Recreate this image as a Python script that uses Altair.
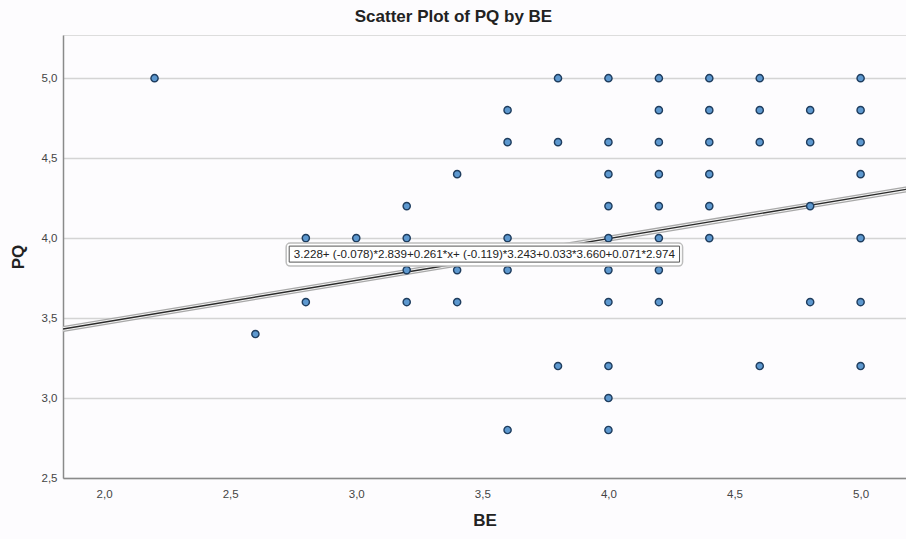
import altair as alt
import pandas as pd

# ---- data ----
be_values = [2.2,
             2.6,
             2.8, 2.8,
             3.0,
             3.2, 3.2, 3.2, 3.2,
             3.4, 3.4, 3.4,
             3.6, 3.6, 3.6, 3.6, 3.6,
             3.8, 3.8, 3.8,
             4.0, 4.0, 4.0, 4.0, 4.0, 4.0, 4.0, 4.0, 4.0, 4.0,
             4.2, 4.2, 4.2, 4.2, 4.2, 4.2, 4.2, 4.2,
             4.4, 4.4, 4.4, 4.4, 4.4, 4.4,
             4.6, 4.6, 4.6, 4.6,
             4.8, 4.8, 4.8, 4.8,
             5.0, 5.0, 5.0, 5.0, 5.0, 5.0, 5.0]
pq_values = [5.0,
             3.4,
             4.0, 3.6,
             4.0,
             4.2, 4.0, 3.8, 3.6,
             4.4, 3.8, 3.6,
             4.8, 4.6, 4.0, 3.8, 2.8,
             5.0, 4.6, 3.2,
             5.0, 4.6, 4.4, 4.2, 4.0, 3.8, 3.6, 3.2, 3.0, 2.8,
             5.0, 4.8, 4.6, 4.4, 4.2, 4.0, 3.8, 3.6,
             5.0, 4.8, 4.6, 4.4, 4.2, 4.0,
             5.0, 4.8, 4.6, 3.2,
             4.8, 4.6, 4.2, 3.6,
             5.0, 4.8, 4.6, 4.4, 4.0, 3.6, 3.2]

# fitted line as printed on the chart
const_terms = [3.228, -0.078 * 2.839, -0.119 * 3.243, 0.033 * 3.660, 0.071 * 2.974]
slope = 0.261
equation_label = "3.228+ (-0.078)*2.839+0.261*x+ (-0.119)*3.243+0.033*3.660+0.071*2.974"

x_ticks = [2.0, 2.5, 3.0, 3.5, 4.0, 4.5, 5.0]
y_ticks = [2.5, 3.0, 3.5, 4.0, 4.5, 5.0]
x_domain = [1.837, 5.18]
y_domain = [2.5, 5.27]

# ---- build tables ----
pts = pd.DataFrame({"BE": be_values, "PQ": pq_values})
intercept = sum(const_terms)
line_df = pd.DataFrame({"BE": x_domain, "PQ": [intercept + slope * v for v in x_domain]})
one = pd.DataFrame({"k": [0]})

FONT = "Liberation Sans"
comma = "replace(format(datum.value, '.1f'), '.', ',')"

xs = alt.Scale(domain=x_domain, nice=False, zero=False)
ys = alt.Scale(domain=y_domain, nice=False, zero=False)

x_enc = alt.X("BE:Q", scale=xs,
              axis=alt.Axis(title="BE", values=x_ticks, labelExpr=comma, grid=False,
                            ticks=False, domainColor="#8a8a8a", domainWidth=1.5,
                            labelFont=FONT, labelFontSize=11.5, labelColor="#444",
                            labelPadding=10, titleFont=FONT, titleFontSize=17,
                            titleFontWeight="bold", titleColor="#222", titlePadding=13))
y_enc = alt.Y("PQ:Q", scale=ys,
              axis=alt.Axis(title="PQ", values=y_ticks, labelExpr=comma, grid=True,
                            gridColor="#d4d4d4", gridWidth=1.5, ticks=False,
                            domainColor="#8a8a8a", domainWidth=1.5,
                            labelFont=FONT, labelFontSize=11.5, labelColor="#444",
                            labelPadding=6, titleFont=FONT, titleFontSize=17,
                            titleFontWeight="bold", titleColor="#222", titlePadding=14))

base_line = alt.Chart(line_df)
halo = base_line.mark_line(color="#a8a8a8", strokeWidth=6, strokeCap="round", clip=True).encode(x=x_enc, y=y_enc)
inner = base_line.mark_line(color="#f4f4f4", strokeWidth=3.5, clip=True).encode(x="BE:Q", y="PQ:Q")
core = base_line.mark_line(color="#2a2a2a", strokeWidth=1.4, clip=True).encode(x="BE:Q", y="PQ:Q")

points = alt.Chart(pts).mark_point(filled=True, shape="circle", size=52, fill="#5d98cf",
                                   stroke="#1f3d5e", strokeWidth=1.4, opacity=1).encode(
    x="BE:Q", y="PQ:Q")

# equation label box (placed in data units)
lab_x, lab_y = 3.508, 3.897
outer_box = alt.Chart(one).mark_rect(fill="white", stroke="#bdbdbd", strokeWidth=1.5,
                                     cornerRadius=4).encode(
    x=alt.datum(2.722), x2=alt.datum(4.294), y=alt.datum(3.969), y2=alt.datum(3.825))
inner_box = alt.Chart(one).mark_rect(fill="white", stroke="#555", strokeWidth=1).encode(
    x=alt.datum(2.734), x2=alt.datum(4.282), y=alt.datum(3.95), y2=alt.datum(3.85))
label = alt.Chart(one).mark_text(font=FONT, fontSize=11.6, color="#222", align="center",
                                 baseline="middle").encode(
    x=alt.datum(lab_x), y=alt.datum(lab_y), text=alt.value(equation_label))

chart = alt.layer(halo, inner, core, points, outer_box, inner_box, label).properties(
    width=843, height=443,
    title=alt.TitleParams("Scatter Plot of PQ by BE", font=FONT, fontSize=17,
                          fontWeight="bold", color="#222", anchor="middle", dx=-31, offset=9),
    autosize=alt.AutoSizeParams(type="none"),
    padding={"left": 63, "top": 35, "right": 0, "bottom": 61},
).configure_view(stroke=None).configure(background="#fdfcfe")

chart.save("out.html", embed_options={"renderer": "svg", "actions": False})
